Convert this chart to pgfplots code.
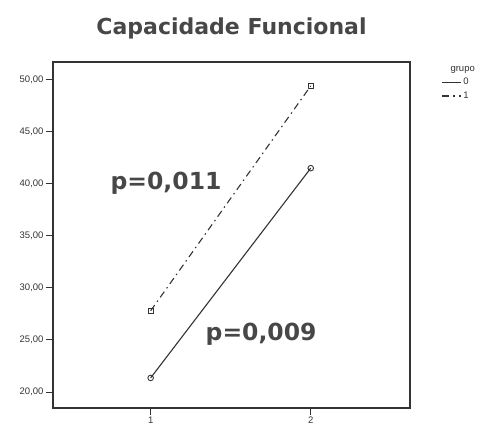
\documentclass[border=0pt]{standalone}
\usepackage{pgfplots}
\pgfplotsset{compat=1.18}
\usetikzlibrary{calc}
\usepackage{fontspec}
\setmainfont{Liberation Sans}
\newfontfamily\titlefont{DejaVu Sans}
\definecolor{ink}{HTML}{333333}
\begin{document}
\begin{tikzpicture}[x=1pt,y=1pt]
\begin{axis}[
  scale only axis, width=357pt, height=346pt,
  xmin=0.39, xmax=2.62, ymin=18.46, ymax=51.7,
  xtick={1,2}, ytick={20,25,30,35,40,45,50},
  yticklabels={{20,00},{25,00},{30,00},{35,00},{40,00},{45,00},{50,00}},
  tick align=outside, major tick length=7pt,
  tick style={ink, line width=0.9pt},
  xtick pos=bottom, ytick pos=left,
  axis line style={ink, line width=1.6pt},
  ticklabel style={font=\fontsize{9.5}{10}\selectfont, text=ink},
  yticklabel style={xshift=1pt},
  /pgf/number format/assume math mode=true,
  xticklabel style={yshift=2pt},
  legend style={at={(1.08,1.0)}, anchor=north west, draw=none, fill=none,
    font=\fontsize{9.5}{10}\selectfont, text=ink, row sep=1.5pt,
    cells={anchor=west}},
  legend image code/.code={\draw[#1] (0cm,0cm) -- (0.65cm,0cm);},
  clip=false,
]
\coordinate (bl) at (rel axis cs:0,0);
\addlegendimage{empty legend}
\addlegendentry{\hspace{-0.45cm}grupo}
\addplot[ink, line width=1.1pt, mark=o, mark size=2.8pt, mark options={solid, line width=0.9pt}]
  coordinates {(1,21.35) (2,41.5)};
\addlegendentry{0}
\addplot[ink, line width=1.1pt, dash pattern=on 7pt off 4pt on 1.5pt off 4pt, mark=square, mark size=2.3pt, mark options={solid, line width=0.9pt}]
  coordinates {(1,27.8) (2,49.4)};
\addlegendentry{1}
\node[font=\titlefont\bfseries\fontsize{22}{26}\selectfont, text=ink!90] at (axis description cs:0.5,1) [anchor=center, yshift=34pt] {Capacidade Funcional};
\node[font=\titlefont\bfseries\fontsize{23.5}{27}\selectfont, text=ink!90] at (axis cs:1.096,40.1) {p=0,011};
\node[font=\titlefont\bfseries\fontsize{23.5}{27}\selectfont, text=ink!90] at (axis cs:1.69,25.5) {p=0,009};
\end{axis}
\pgfresetboundingbox
\useasboundingbox ($(bl)+(-53,-20)$) rectangle ++(498,428);
\end{tikzpicture}
\end{document}
